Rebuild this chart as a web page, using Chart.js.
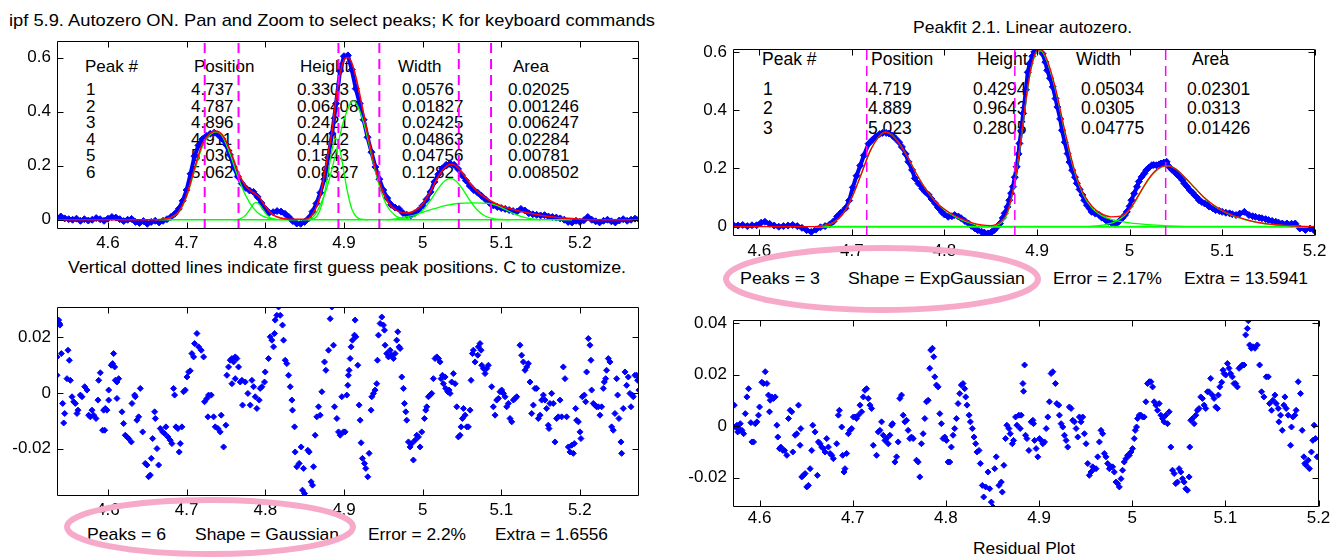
<!DOCTYPE html>
<html><head><meta charset="utf-8">
<script src="https://cdn.jsdelivr.net/npm/chart.js@4.4.1/dist/chart.umd.min.js"></script>
<style>
html,body{margin:0;padding:0;background:#fff;}
#wrap{position:relative;width:1332px;height:558px;overflow:hidden;background:#fff;}
#wrap canvas{position:absolute;left:0;top:0;z-index:1;}
#txt{position:absolute;left:0;top:0;z-index:0;}
#ov{position:absolute;left:0;top:0;z-index:2;}
text{font-family:"Liberation Sans",Arial,sans-serif;fill:#000;}
</style></head><body>
<div id="wrap">
<svg id="txt" width="1332" height="558"></svg>
<canvas id="cTL" width="1332" height="558"></canvas>
<canvas id="cTR" width="1332" height="558"></canvas>
<canvas id="cBL" width="1332" height="558"></canvas>
<canvas id="cBR" width="1332" height="558"></canvas>
<svg id="ov" width="1332" height="558">
<ellipse cx="882" cy="279" rx="156" ry="31" fill="none" stroke="#f7a9c9" stroke-width="6"/>
<ellipse cx="210" cy="527" rx="143" ry="27" fill="none" stroke="#f7a9c9" stroke-width="6"/>
</svg>
</div>
<script>
// ---------------- tick values / labels ----------------
const xTicks = [4.6,4.7,4.8,4.9,5,5.1,5.2];
const xTickLabels = ['4.6','4.7','4.8','4.9','5','5.1','5.2'];
const yTicksFit = [0,0.2,0.4,0.6];
const yTickLabelsFit = ['0','0.2','0.4','0.6'];
const yTicksResL = [-0.02,0,0.02];
const yTickLabelsResL = ['-0.02','0','0.02'];
const yTicksResR = [-0.02,0,0.02,0.04];
const yTickLabelsResR = ['-0.02','0','0.02','0.04'];

// ---------------- texts ----------------
const titleLeft = 'ipf 5.9. Autozero ON. Pan and Zoom to select peaks; K for keyboard commands';
const titleRight = 'Peakfit 2.1. Linear autozero.';
const noteLeft = 'Vertical dotted lines indicate first guess peak positions. C to customize.';
const statsLeft = ['Peaks = 6','Shape = Gaussian','Error = 2.2%','Extra = 1.6556'];
const statsRight = ['Peaks = 3','Shape = ExpGaussian','Error = 2.17%','Extra = 13.5941'];
const residualLabel = 'Residual Plot';
const tableHeaders = ['Peak #','Position','Height','Width','Area'];
const tableLeftRows = [
 ['1','4.737','0.3303','0.0576','0.02025'],
 ['2','4.787','0.06408','0.01827','0.001246'],
 ['3','4.896','0.2421','0.02425','0.006247'],
 ['4','4.911','0.4412','0.04863','0.02284'],
 ['5','5.036','0.1543','0.04756','0.00781'],
 ['6','5.062','0.08327','0.1282','0.008502']];
const tableRightRows = [
 ['1','4.719','0.4294','0.05034','0.02301'],
 ['2','4.889','0.9643','0.0305','0.0313'],
 ['3','5.023','0.2805','0.04775','0.01426']];

// ---------------- first-guess marker positions ----------------
const guessLeft = [4.723,4.766,4.893,4.945,5.046,5.087];
const guessRight = [4.716,4.876,5.039];

// ---------------- top-left (ipf) data ----------------
const tlData = [[4.535,0.008],[4.540,0.012],[4.545,0.005],[4.550,0.002],[4.555,0.000],[4.560,0.004],[4.565,-0.004],[4.570,0.002],[4.575,-0.003],[4.580,0.000],[4.585,0.006],[4.590,0.002],[4.595,-0.004],[4.600,0.004],[4.605,0.010],[4.610,0.008],[4.615,0.002],[4.620,-0.005],[4.625,0.000],[4.630,0.003],[4.635,-0.008],[4.640,-0.012],[4.645,-0.005],[4.650,-0.015],[4.655,-0.008],[4.660,-0.004],[4.665,-0.010],[4.670,-0.004],[4.675,0.002],[4.680,0.010],[4.685,0.022],[4.690,0.040],[4.695,0.070],[4.700,0.110],[4.705,0.170],[4.710,0.235],[4.715,0.275],[4.720,0.298],[4.725,0.310],[4.730,0.318],[4.735,0.322],[4.740,0.314],[4.745,0.300],[4.750,0.278],[4.755,0.240],[4.760,0.195],[4.765,0.160],[4.770,0.134],[4.775,0.118],[4.780,0.108],[4.785,0.103],[4.790,0.085],[4.795,0.062],[4.800,0.040],[4.805,0.026],[4.810,0.028],[4.815,0.032],[4.820,0.030],[4.825,0.022],[4.830,0.010],[4.835,-0.005],[4.840,-0.014],[4.845,-0.015],[4.850,-0.008],[4.855,0.005],[4.860,0.030],[4.865,0.060],[4.870,0.100],[4.875,0.150],[4.880,0.230],[4.885,0.320],[4.890,0.430],[4.895,0.550],[4.900,0.605],[4.905,0.608],[4.910,0.555],[4.915,0.485],[4.920,0.430],[4.925,0.370],[4.930,0.305],[4.935,0.250],[4.940,0.195],[4.945,0.150],[4.950,0.110],[4.955,0.080],[4.960,0.055],[4.965,0.045],[4.970,0.040],[4.975,0.025],[4.980,0.018],[4.985,0.016],[4.990,0.024],[4.995,0.035],[5.000,0.052],[5.005,0.075],[5.010,0.103],[5.015,0.140],[5.020,0.168],[5.025,0.190],[5.030,0.203],[5.035,0.208],[5.040,0.203],[5.045,0.188],[5.050,0.165],[5.055,0.145],[5.060,0.125],[5.065,0.110],[5.070,0.100],[5.075,0.088],[5.080,0.075],[5.085,0.062],[5.090,0.053],[5.095,0.047],[5.100,0.043],[5.105,0.040],[5.110,0.036],[5.115,0.032],[5.120,0.030],[5.125,0.040],[5.130,0.034],[5.135,0.024],[5.140,0.020],[5.145,0.018],[5.150,0.016],[5.155,0.017],[5.160,0.012],[5.165,0.010],[5.170,0.008],[5.175,0.005],[5.180,0.000],[5.185,-0.008],[5.190,-0.010],[5.195,-0.004],[5.200,-0.008],[5.205,-0.002],[5.210,0.010],[5.215,0.000],[5.220,-0.006],[5.225,-0.010],[5.230,-0.004],[5.235,0.000],[5.240,-0.006],[5.245,-0.010],[5.250,-0.003],[5.255,0.002],[5.260,-0.004],[5.265,0.000],[5.270,0.004],[5.275,0.002]];
const tlFit = [[4.535,0],[4.660,0],[4.670,0.002],[4.680,0.008],[4.690,0.030],[4.700,0.090],[4.710,0.190],[4.720,0.280],[4.730,0.320],[4.737,0.328],[4.745,0.315],[4.755,0.260],[4.765,0.180],[4.775,0.125],[4.785,0.100],[4.792,0.085],[4.800,0.050],[4.810,0.018],[4.820,0.006],[4.830,0.002],[4.850,0.002],[4.860,0.020],[4.870,0.090],[4.880,0.250],[4.885,0.330],[4.890,0.450],[4.895,0.540],[4.900,0.590],[4.905,0.600],[4.910,0.580],[4.915,0.530],[4.920,0.465],[4.930,0.320],[4.940,0.190],[4.950,0.100],[4.960,0.050],[4.970,0.030],[4.980,0.025],[4.990,0.033],[5.000,0.058],[5.010,0.105],[5.020,0.160],[5.030,0.197],[5.037,0.205],[5.045,0.192],[5.055,0.155],[5.065,0.118],[5.075,0.092],[5.085,0.072],[5.095,0.057],[5.105,0.046],[5.120,0.034],[5.140,0.022],[5.160,0.012],[5.180,0.006],[5.200,0.002],[5.220,0],[5.275,0]];
const tlPeak1 = [[4.660,0],[4.670,0.002],[4.680,0.008],[4.690,0.028],[4.700,0.085],[4.710,0.180],[4.720,0.270],[4.730,0.315],[4.737,0.325],[4.745,0.310],[4.755,0.245],[4.765,0.160],[4.775,0.090],[4.785,0.042],[4.795,0.016],[4.805,0.005],[4.815,0.001],[4.830,0]];
const tlPeak2 = [[4.760,0],[4.768,0.003],[4.775,0.017],[4.780,0.036],[4.785,0.058],[4.788,0.064],[4.792,0.058],[4.797,0.038],[4.802,0.018],[4.808,0.005],[4.815,0]];
const tlPeak3 = [[4.855,0],[4.862,0.004],[4.868,0.025],[4.874,0.080],[4.880,0.175],[4.885,0.260],[4.889,0.300],[4.893,0.285],[4.898,0.210],[4.904,0.110],[4.910,0.040],[4.916,0.010],[4.922,0.002],[4.930,0]];
const tlPeak4 = [[4.850,0],[4.860,0.008],[4.870,0.055],[4.880,0.135],[4.890,0.250],[4.900,0.370],[4.912,0.440],[4.925,0.360],[4.935,0.240],[4.945,0.125],[4.955,0.050],[4.965,0.016],[4.975,0.004],[4.985,0]];
const tlPeak5 = [[4.970,0],[4.980,0.004],[4.990,0.013],[5.000,0.034],[5.010,0.072],[5.020,0.116],[5.028,0.143],[5.035,0.153],[5.042,0.144],[5.050,0.117],[5.060,0.072],[5.070,0.034],[5.080,0.013],[5.090,0.004],[5.100,0.001],[5.110,0]];
const tlPeak6 = [[4.955,0],[4.970,0.005],[4.985,0.014],[5.000,0.027],[5.015,0.041],[5.030,0.053],[5.045,0.060],[5.065,0.062],[5.085,0.060],[5.095,0.052],[5.105,0.038],[5.115,0.024],[5.125,0.012],[5.135,0.005],[5.150,0]];
const tlBase = [[4.665,0],[5.190,0]];

// ---------------- top-right (peakfit) data ----------------
const trData = [[4.572,0.005],[4.577,0.004],[4.582,0.006],[4.587,0.002],[4.592,0.005],[4.597,0.005],[4.602,0.014],[4.606,0.017],[4.611,0.010],[4.616,0.004],[4.621,0.000],[4.626,0.002],[4.631,0.004],[4.636,0.006],[4.641,0.002],[4.646,-0.004],[4.651,-0.012],[4.656,-0.018],[4.661,-0.010],[4.666,-0.002],[4.671,0.002],[4.676,0.008],[4.680,0.018],[4.684,0.035],[4.688,0.048],[4.693,0.063],[4.697,0.090],[4.701,0.135],[4.705,0.175],[4.709,0.210],[4.713,0.245],[4.718,0.285],[4.722,0.298],[4.726,0.310],[4.730,0.318],[4.733,0.322],[4.737,0.322],[4.740,0.320],[4.744,0.312],[4.747,0.303],[4.751,0.290],[4.754,0.274],[4.758,0.250],[4.761,0.223],[4.765,0.195],[4.768,0.166],[4.772,0.148],[4.776,0.131],[4.779,0.120],[4.783,0.109],[4.786,0.095],[4.790,0.080],[4.793,0.066],[4.797,0.051],[4.800,0.042],[4.804,0.034],[4.808,0.036],[4.811,0.040],[4.815,0.035],[4.818,0.029],[4.822,0.020],[4.826,0.011],[4.829,0.003],[4.833,-0.006],[4.836,-0.012],[4.840,-0.017],[4.843,-0.020],[4.847,-0.023],[4.851,-0.018],[4.854,-0.011],[4.857,0.000],[4.860,0.011],[4.863,0.030],[4.865,0.046],[4.868,0.068],[4.870,0.091],[4.872,0.115],[4.874,0.137],[4.876,0.170],[4.878,0.206],[4.880,0.250],[4.881,0.286],[4.883,0.330],[4.885,0.389],[4.888,0.470],[4.890,0.530],[4.892,0.560],[4.895,0.585],[4.897,0.600],[4.900,0.608],[4.902,0.611],[4.906,0.594],[4.909,0.565],[4.911,0.537],[4.914,0.510],[4.917,0.480],[4.920,0.440],[4.922,0.411],[4.925,0.370],[4.927,0.331],[4.930,0.290],[4.933,0.251],[4.935,0.222],[4.938,0.194],[4.941,0.170],[4.943,0.149],[4.946,0.128],[4.949,0.109],[4.951,0.091],[4.954,0.074],[4.957,0.062],[4.959,0.051],[4.963,0.045],[4.967,0.040],[4.970,0.031],[4.974,0.023],[4.977,0.017],[4.981,0.011],[4.984,0.010],[4.986,0.011],[4.989,0.020],[4.992,0.029],[4.995,0.040],[4.997,0.051],[5.000,0.070],[5.002,0.091],[5.005,0.114],[5.008,0.137],[5.010,0.155],[5.013,0.171],[5.016,0.183],[5.018,0.194],[5.021,0.203],[5.024,0.211],[5.026,0.212],[5.029,0.211],[5.032,0.214],[5.034,0.217],[5.037,0.220],[5.040,0.223],[5.043,0.205],[5.046,0.195],[5.049,0.188],[5.051,0.180],[5.054,0.171],[5.057,0.160],[5.059,0.149],[5.062,0.138],[5.065,0.126],[5.068,0.117],[5.070,0.109],[5.073,0.100],[5.075,0.091],[5.078,0.085],[5.081,0.080],[5.084,0.075],[5.086,0.069],[5.090,0.063],[5.093,0.057],[5.097,0.054],[5.100,0.051],[5.104,0.048],[5.108,0.046],[5.111,0.043],[5.115,0.040],[5.119,0.045],[5.124,0.051],[5.129,0.040],[5.133,0.036],[5.136,0.034],[5.140,0.031],[5.143,0.029],[5.147,0.026],[5.150,0.023],[5.154,0.020],[5.158,0.017],[5.161,0.014],[5.165,0.011],[5.170,0.011],[5.175,0.010],[5.179,0.011],[5.184,-0.006],[5.190,-0.011],[5.195,-0.006],[5.199,-0.011]];
const trFit = [[4.5715,0],[4.660,0],[4.670,0.004],[4.680,0.014],[4.690,0.042],[4.700,0.100],[4.710,0.180],[4.720,0.262],[4.730,0.312],[4.736,0.325],[4.742,0.318],[4.750,0.290],[4.760,0.240],[4.770,0.180],[4.780,0.128],[4.790,0.088],[4.800,0.060],[4.810,0.040],[4.820,0.025],[4.830,0.013],[4.840,0.006],[4.850,0.004],[4.860,0.016],[4.868,0.050],[4.875,0.140],[4.880,0.240],[4.885,0.360],[4.890,0.480],[4.895,0.565],[4.900,0.605],[4.904,0.608],[4.910,0.580],[4.920,0.475],[4.930,0.330],[4.940,0.200],[4.950,0.115],[4.960,0.068],[4.970,0.044],[4.980,0.034],[4.990,0.036],[5.000,0.060],[5.010,0.110],[5.020,0.162],[5.030,0.198],[5.040,0.210],[5.050,0.198],[5.060,0.168],[5.070,0.135],[5.080,0.102],[5.090,0.076],[5.100,0.056],[5.110,0.041],[5.120,0.030],[5.130,0.021],[5.140,0.014],[5.160,0.006],[5.180,0.002],[5.200,0]];
const trPeak1 = [[4.660,0],[4.670,0.004],[4.680,0.014],[4.690,0.042],[4.700,0.100],[4.710,0.180],[4.720,0.262],[4.730,0.312],[4.736,0.325],[4.742,0.318],[4.750,0.290],[4.760,0.240],[4.770,0.180],[4.780,0.128],[4.790,0.087],[4.800,0.058],[4.810,0.037],[4.820,0.022],[4.830,0.011],[4.840,0.004],[4.850,0.001],[4.860,0]];
const trPeak2 = [[4.845,0],[4.855,0.004],[4.862,0.015],[4.868,0.045],[4.875,0.135],[4.880,0.235],[4.885,0.355],[4.890,0.475],[4.895,0.560],[4.900,0.600],[4.904,0.604],[4.910,0.575],[4.920,0.470],[4.930,0.325],[4.940,0.195],[4.950,0.110],[4.960,0.062],[4.970,0.038],[4.980,0.025],[4.990,0.018],[5.000,0.013],[5.020,0.007],[5.040,0.003],[5.060,0]];
const trPeak3 = [[4.955,0],[4.965,0.003],[4.975,0.008],[4.985,0.018],[4.995,0.040],[5.005,0.080],[5.015,0.135],[5.025,0.180],[5.035,0.205],[5.042,0.209],[5.050,0.198],[5.060,0.168],[5.070,0.134],[5.080,0.101],[5.090,0.075],[5.100,0.055],[5.110,0.040],[5.120,0.029],[5.130,0.020],[5.140,0.013],[5.160,0.005],[5.180,0.001],[5.200,0]];
const trBase = [[4.660,0],[5.200,0]];

// ---------------- residuals, bottom-left ----------------
const blResid = [[4.5352,0.0129],[4.5352,0.0063],[4.5373,0.0261],[4.5382,0.0249],[4.5390,0.0243],[4.5407,0.0141],[4.5424,-0.0038],[4.5437,-0.0108],[4.5450,-0.0074],[4.5479,0.0051],[4.5492,0.0153],[4.5509,0.0117],[4.5522,0.0045],[4.5543,-0.0014],[4.5564,-0.0032],[4.5585,-0.0038],[4.5606,-0.0074],[4.5619,-0.0062],[4.5649,-0.0008],[4.5670,-0.0014],[4.5704,0.0022],[4.5733,0.0010],[4.5755,-0.0080],[4.5776,-0.0086],[4.5797,-0.0062],[4.5818,-0.0080],[4.5848,-0.0092],[4.5873,-0.0026],[4.5882,0.0045],[4.5903,0.0072],[4.5932,-0.0134],[4.5945,-0.0062],[4.5958,-0.0134],[4.5966,-0.0056],[4.5987,-0.0062],[4.6009,0.0010],[4.6009,-0.0026],[4.6042,0.0099],[4.6059,0.0105],[4.6072,0.0141],[4.6085,0.0093],[4.6093,0.0045],[4.6114,0.0039],[4.6114,-0.0020],[4.6136,0.0051],[4.6178,-0.0068],[4.6199,-0.0110],[4.6220,-0.0152],[4.6242,-0.0158],[4.6263,-0.0164],[4.6297,-0.0176],[4.6305,-0.0038],[4.6339,-0.0008],[4.6347,-0.0014],[4.6368,-0.0098],[4.6390,-0.0086],[4.6411,0.0016],[4.6441,-0.0140],[4.6474,-0.0253],[4.6496,-0.0259],[4.6517,-0.0301],[4.6538,-0.0295],[4.6551,-0.0235],[4.6568,-0.0164],[4.6593,-0.0068],[4.6602,-0.0092],[4.6623,-0.0200],[4.6644,-0.0259],[4.6665,-0.0128],[4.6695,-0.0140],[4.6720,-0.0146],[4.6737,-0.0122],[4.6762,-0.0158],[4.6792,-0.0170],[4.6813,-0.0182],[4.6834,0.0016],[4.6847,-0.0008],[4.6864,-0.0122],[4.6889,-0.0128],[4.6906,-0.0212],[4.6919,-0.0182],[4.6940,-0.0122],[4.6961,0.0004],[4.6983,0.0010],[4.7004,0.0057],[4.7025,0.0075],[4.7046,0.0079],[4.7067,0.0141],[4.7089,0.0129],[4.7101,0.0177],[4.7131,0.0213],[4.7152,0.0165],[4.7186,0.0153],[4.7216,0.0129],[4.7228,-0.0032],[4.7258,-0.0020],[4.7271,-0.0086],[4.7279,-0.0008],[4.7313,-0.0008],[4.7343,-0.0086],[4.7364,-0.0122],[4.7398,-0.0128],[4.7427,-0.0140],[4.7440,-0.0080],[4.7470,-0.0194],[4.7499,-0.0116],[4.7512,0.0063],[4.7533,0.0093],[4.7554,0.0117],[4.7576,0.0123],[4.7576,0.0033],[4.7597,0.0111],[4.7618,0.0129],[4.7618,0.0051],[4.7639,0.0123],[4.7660,0.0093],[4.7681,0.0039],[4.7703,0.0045],[4.7711,-0.0044],[4.7745,0.0039],[4.7779,-0.0002],[4.7809,-0.0044],[4.7830,0.0045],[4.7851,0.0022],[4.7872,-0.0014],[4.7893,-0.0056],[4.7923,-0.0026],[4.7935,0.0016],[4.7957,0.0022],[4.7990,0.0039],[4.7999,0.0075],[4.8041,0.0123],[4.8063,0.0201],[4.8084,0.0189],[4.8105,0.0165],[4.8118,0.0213],[4.8126,0.0261],[4.8147,0.0278],[4.8169,0.0308],[4.8190,0.0278],[4.8219,0.0243],[4.8232,0.0189],[4.8253,0.0117],[4.8274,0.0105],[4.8296,0.0063],[4.8317,0.0022],[4.8338,-0.0026],[4.8346,-0.0062],[4.8372,-0.0122],[4.8380,-0.0212],[4.8401,-0.0265],[4.8431,-0.0253],[4.8456,-0.0194],[4.8473,-0.0349],[4.8486,-0.0271],[4.8499,-0.0361],[4.8541,-0.0206],[4.8558,-0.0212],[4.8583,-0.0319],[4.8600,-0.0331],[4.8613,-0.0265],[4.8634,-0.0152],[4.8655,-0.0086],[4.8677,-0.0050],[4.8698,-0.0080],[4.8719,0.0004],[4.8753,0.0111],[4.8770,0.0081],[4.8804,0.0153],[4.8825,0.0266],[4.8846,0.0308],[4.8867,0.0171],[4.8880,-0.0050],[4.8910,-0.0092],[4.8931,-0.0140],[4.8952,-0.0152],[4.8973,-0.0014],[4.8994,-0.0140],
[4.9015,-0.0140],[4.9036,-0.0008],[4.9049,0.0027],[4.9057,0.0063],[4.9066,0.0081],[4.9079,0.0123],[4.9091,0.0165],[4.9108,0.0189],[4.9134,0.0207],[4.9142,0.0261],[4.9151,0.0201],[4.9176,0.0099],[4.9193,-0.0044],[4.9206,-0.0098],[4.9218,-0.0179],[4.9235,-0.0235],[4.9261,-0.0253],[4.9278,-0.0271],[4.9303,-0.0301],[4.9320,-0.0217],[4.9345,-0.0062],[4.9354,-0.0014],[4.9375,-0.0002],[4.9396,0.0010],[4.9417,0.0033],[4.9426,0.0117],[4.9439,0.0207],[4.9460,0.0249],[4.9481,0.0272],[4.9502,0.0243],[4.9515,0.0225],[4.9523,0.0171],[4.9544,0.0141],[4.9566,0.0129],[4.9587,0.0153],[4.9608,0.0135],[4.9629,0.0123],[4.9650,0.0141],[4.9671,0.0189],[4.9684,0.0219],[4.9701,0.0165],[4.9714,0.0159],[4.9735,0.0057],[4.9756,0.0016],[4.9769,-0.0038],[4.9786,-0.0068],[4.9798,-0.0098],[4.9820,-0.0176],[4.9841,-0.0194],[4.9862,-0.0182],[4.9883,-0.0241],[4.9904,-0.0170],[4.9926,-0.0152],[4.9947,-0.0158],[4.9968,-0.0194],[4.9989,-0.0140],[5.0023,-0.0092],[5.0040,-0.0062],[5.0053,-0.0050],[5.0074,-0.0014],[5.0095,-0.0008],[5.0116,-0.0002],[5.0137,0.0051],[5.0158,0.0123],[5.0180,0.0129],[5.0201,0.0123],[5.0222,0.0111],[5.0235,0.0051],[5.0252,0.0063],[5.0264,0.0033],[5.0286,0.0057],[5.0294,0.0016],[5.0319,0.0004],[5.0336,0.0010],[5.0349,-0.0002],[5.0370,0.0039],[5.0391,0.0069],[5.0413,0.0033],[5.0434,-0.0050],[5.0455,-0.0158],[5.0476,-0.0152],[5.0489,-0.0122],[5.0506,-0.0092],[5.0519,-0.0056],[5.0540,-0.0080],[5.0561,-0.0122],[5.0582,-0.0122],[5.0603,-0.0062],[5.0616,0.0045],[5.0633,0.0141],[5.0645,0.0153],[5.0667,0.0111],[5.0701,0.0135],[5.0709,0.0165],[5.0730,0.0177],[5.0743,0.0153],[5.0751,0.0099],[5.0773,0.0087],[5.0794,0.0069],[5.0815,0.0087],[5.0836,0.0099],[5.0878,0.0022],[5.0899,-0.0050],[5.0921,-0.0080],[5.0942,-0.0026],[5.0963,-0.0020],[5.0984,0.0004],[5.1005,0.0010],[5.1027,-0.0002],[5.1048,-0.0014],[5.1069,-0.0050],[5.1090,-0.0038],[5.1111,-0.0092],[5.1133,-0.0104],[5.1154,-0.0026],[5.1175,-0.0020],[5.1196,-0.0014],[5.1238,0.0171],[5.1259,0.0135],[5.1281,0.0111],[5.1302,0.0081],[5.1323,0.0093],[5.1344,0.0105],[5.1365,0.0039],[5.1387,-0.0074],[5.1408,-0.0044],[5.1429,0.0016],[5.1450,0.0016],[5.1471,-0.0092],[5.1493,-0.0080],[5.1514,-0.0026],[5.1535,-0.0008],[5.1556,-0.0026],[5.1577,-0.0056],[5.1598,-0.0116],[5.1607,-0.0128],[5.1619,-0.0038],[5.1641,-0.0002],[5.1662,-0.0038],[5.1683,-0.0176],[5.1704,-0.0092],[5.1725,-0.0086],[5.1747,-0.0026],[5.1768,-0.0086],[5.1789,0.0093],[5.1810,0.0051],[5.1831,-0.0086],[5.1853,-0.0194],[5.1874,-0.0212],[5.1895,-0.0188],[5.1916,-0.0217],[5.1929,-0.0182],[5.1946,-0.0056],[5.1958,-0.0098],[5.1980,-0.0104],[5.2001,-0.0140],[5.2013,-0.0164],[5.2030,-0.0014],[5.2056,-0.0008],[5.2073,-0.0032],[5.2085,0.0075],[5.2107,0.0195],[5.2128,0.0171],[5.2140,0.0117],[5.2149,0.0010],[5.2170,-0.0038],[5.2191,-0.0044],[5.2212,-0.0050],[5.2234,-0.0050],[5.2255,-0.0080],[5.2276,-0.0050],[5.2297,0.0016],[5.2310,0.0039],[5.2327,0.0051],[5.2339,0.0081],[5.2361,0.0123],[5.2382,0.0111],[5.2403,-0.0122],[5.2424,-0.0134],[5.2445,-0.0074],[5.2467,0.0051],[5.2479,-0.0008],[5.2496,-0.0092],[5.2522,-0.0176],[5.2530,-0.0217],[5.2551,-0.0056],[5.2573,0.0075],[5.2594,0.0027],[5.2615,0.0057],[5.2636,-0.0002],[5.2649,-0.0050],[5.2666,-0.0008],[5.2678,-0.0014],[5.2699,0.0063],[5.2721,0.0063],[5.2734,0.0045],[5.2750,0.0010]];

// ---------------- residuals, bottom-right ----------------
const brResid = [[4.5729,0.0082],[4.5740,-0.0003],[4.5757,0.0004],[4.5765,-0.0022],[4.5775,-0.0009],[4.5786,-0.0016],[4.5793,0.0010],[4.5811,-0.0016],[4.5829,-0.0029],[4.5847,0.0049],[4.5864,0.0114],[4.5882,0.0146],[4.5907,0.0014],[4.5918,-0.0061],[4.5936,-0.0061],[4.5954,0.0010],[4.5972,0.0017],[4.5989,0.0043],[4.6000,0.0075],[4.6025,0.0171],[4.6043,0.0166],[4.6061,0.0212],[4.6079,0.0166],[4.6096,0.0121],[4.6107,0.0056],[4.6114,0.0101],[4.6132,0.0114],[4.6150,0.0108],[4.6168,0.0114],[4.6186,0.0004],[4.6196,-0.0042],[4.6214,-0.0087],[4.6228,-0.0081],[4.6250,-0.0094],[4.6268,-0.0094],[4.6293,-0.0113],[4.6311,0.0030],[4.6328,0.0062],[4.6346,0.0056],[4.6357,-0.0100],[4.6382,-0.0035],[4.6400,-0.0029],[4.6418,0.0082],[4.6435,-0.0074],[4.6443,-0.0009],[4.6453,-0.0197],[4.6471,-0.0191],[4.6489,-0.0184],[4.6507,-0.0236],[4.6525,-0.0230],[4.6543,-0.0165],[4.6560,-0.0094],[4.6571,0.0004],[4.6596,-0.0022],[4.6621,-0.0191],[4.6632,-0.0061],[4.6650,-0.0068],[4.6667,-0.0081],[4.6685,-0.0087],[4.6703,-0.0100],[4.6721,-0.0048],[4.6739,-0.0081],[4.6757,-0.0106],[4.6775,-0.0113],[4.6792,-0.0126],[4.6828,-0.0068],[4.6846,0.0043],[4.6857,0.0062],[4.6882,-0.0003],[4.6892,-0.0113],[4.6907,-0.0178],[4.6917,-0.0165],[4.6935,-0.0106],[4.6953,-0.0029],[4.6971,-0.0016],[4.6989,-0.0009],[4.7007,0.0036],[4.7024,0.0036],[4.7042,0.0030],[4.7060,0.0043],[4.7078,0.0082],[4.7096,0.0056],[4.7114,0.0114],[4.7131,0.0140],[4.7149,0.0146],[4.7167,0.0108],[4.7185,0.0082],[4.7203,0.0069],[4.7221,-0.0074],[4.7256,-0.0113],[4.7274,-0.0022],[4.7292,-0.0016],[4.7310,0.0017],[4.7328,-0.0035],[4.7346,-0.0055],[4.7363,-0.0048],[4.7381,-0.0068],[4.7399,-0.0035],[4.7417,0.0004],[4.7428,0.0010],[4.7453,-0.0139],[4.7471,-0.0119],[4.7488,-0.0061],[4.7506,0.0108],[4.7524,0.0121],[4.7542,0.0043],[4.7560,0.0017],[4.7578,0.0023],[4.7595,-0.0016],[4.7613,-0.0048],[4.7631,-0.0042],[4.7649,-0.0048],[4.7685,-0.0132],[4.7703,-0.0139],[4.7720,-0.0197],[4.7738,-0.0068],[4.7756,-0.0029],[4.7774,0.0030],[4.7792,0.0095],[4.7810,0.0101],[4.7827,0.0225],[4.7838,0.0296],[4.7856,0.0303],[4.7870,0.0270],[4.7881,0.0192],[4.7899,0.0160],[4.7917,0.0153],[4.7935,0.0049],[4.7952,0.0010],[4.7970,-0.0048],[4.7988,-0.0042],[4.8006,-0.0055],[4.8024,-0.0139],[4.8042,-0.0139],[4.8059,-0.0081],[4.8077,-0.0035],[4.8095,-0.0009],[4.8113,0.0030],[4.8131,0.0088],[4.8149,0.0127],[4.8166,0.0160],[4.8184,0.0166],[4.8202,0.0146],[4.8213,0.0114],[4.8227,0.0082],[4.8249,0.0043],[4.8263,0.0017],[4.8284,-0.0009],[4.8302,-0.0042],[4.8320,-0.0068],[4.8334,-0.0100],[4.8356,-0.0094],[4.8370,-0.0145],[4.8391,-0.0230],[4.8406,-0.0275],[4.8427,-0.0236],[4.8452,-0.0178],[4.8470,-0.0243],[4.8488,-0.0295],[4.8506,-0.0314],[4.8524,-0.0165],[4.8541,-0.0119],[4.8570,-0.0230],[4.8595,-0.0217],[4.8606,-0.0256],[4.8623,-0.0152],[4.8641,-0.0048],[4.8655,0.0004],[4.8677,-0.0009],[4.8691,-0.0029],[4.8713,-0.0068],[4.8727,-0.0055],[4.8748,0.0036],[4.8763,0.0004],[4.8784,0.0043],
[4.8798,-0.0009],[4.8809,0.0043],[4.8827,0.0166],[4.8834,0.0136],[4.8845,0.0238],[4.8855,-0.0035],[4.8870,-0.0048],[4.8891,-0.0094],[4.8916,0.0017],[4.8934,0.0023],[4.8941,0.0010],[4.8952,-0.0055],[4.8969,-0.0087],[4.8987,-0.0119],[4.9005,-0.0048],[4.9023,-0.0055],[4.9041,-0.0068],[4.9059,-0.0061],[4.9077,-0.0009],[4.9094,0.0036],[4.9112,0.0095],[4.9130,0.0205],[4.9148,0.0212],[4.9176,0.0166],[4.9191,0.0088],[4.9212,0.0082],[4.9219,0.0043],[4.9237,0.0010],[4.9255,-0.0003],[4.9273,-0.0035],[4.9291,-0.0055],[4.9308,-0.0081],[4.9326,0.0075],[4.9344,0.0069],[4.9362,0.0023],[4.9380,0.0017],[4.9398,-0.0009],[4.9416,-0.0042],[4.9433,0.0036],[4.9451,0.0017],[4.9469,0.0036],[4.9487,-0.0029],[4.9505,-0.0068],[4.9523,-0.0145],[4.9540,-0.0191],[4.9558,-0.0178],[4.9576,-0.0158],[4.9594,-0.0165],[4.9612,-0.0165],[4.9630,-0.0119],[4.9648,-0.0061],[4.9665,-0.0016],[4.9683,-0.0029],[4.9701,-0.0106],[4.9719,-0.0119],[4.9737,-0.0145],[4.9755,-0.0165],[4.9772,-0.0158],[4.9790,-0.0158],[4.9808,-0.0178],[4.9826,-0.0217],[4.9844,-0.0223],[4.9862,-0.0236],[4.9880,-0.0204],[4.9897,-0.0171],[4.9915,-0.0139],[4.9933,-0.0126],[4.9951,-0.0113],[4.9969,-0.0113],[4.9987,-0.0100],[5.0004,-0.0087],[5.0022,-0.0048],[5.0033,-0.0016],[5.0047,-0.0003],[5.0058,0.0030],[5.0076,0.0043],[5.0094,0.0043],[5.0112,0.0036],[5.0129,0.0036],[5.0147,0.0095],[5.0165,0.0166],[5.0183,0.0173],[5.0201,0.0173],[5.0219,0.0153],[5.0236,0.0095],[5.0254,0.0082],[5.0272,0.0062],[5.0290,0.0088],[5.0308,0.0043],[5.0326,0.0030],[5.0343,0.0017],[5.0361,0.0043],[5.0379,0.0010],[5.0397,0.0056],[5.0415,-0.0081],[5.0433,-0.0171],[5.0451,-0.0184],[5.0468,-0.0223],[5.0486,-0.0217],[5.0504,-0.0165],[5.0522,-0.0178],[5.0540,-0.0204],[5.0558,-0.0217],[5.0576,-0.0243],[5.0593,-0.0249],[5.0611,-0.0197],[5.0618,-0.0081],[5.0629,0.0023],[5.0647,0.0030],[5.0665,0.0010],[5.0683,0.0043],[5.0700,0.0062],[5.0718,0.0069],[5.0736,0.0114],[5.0754,0.0108],[5.0772,0.0082],[5.0790,0.0069],[5.0808,0.0134],[5.0825,0.0134],[5.0843,0.0186],[5.0861,0.0121],[5.0879,0.0108],[5.0897,0.0075],[5.0915,0.0069],[5.0925,0.0121],[5.0940,0.0153],[5.0961,0.0171],[5.0975,0.0218],[5.0986,0.0205],[5.1004,0.0199],[5.1022,0.0244],[5.1039,0.0225],[5.1057,0.0205],[5.1075,0.0192],[5.1093,0.0166],[5.1111,0.0166],[5.1129,0.0153],[5.1147,0.0225],[5.1164,0.0231],[5.1182,0.0238],[5.1200,0.0238],[5.1218,0.0355],[5.1236,0.0380],[5.1247,0.0410],[5.1261,0.0316],[5.1279,0.0303],[5.1296,0.0309],[5.1318,0.0303],[5.1343,0.0316],[5.1368,0.0238],[5.1389,0.0134],[5.1414,0.0114],[5.1439,0.0192],[5.1461,0.0192],[5.1475,0.0088],[5.1496,0.0062],[5.1511,0.0101],[5.1532,0.0121],[5.1546,0.0088],[5.1568,0.0069],[5.1575,0.0017],[5.1593,0.0043],[5.1611,-0.0016],[5.1628,0.0082],[5.1639,0.0114],[5.1653,0.0069],[5.1675,0.0043],[5.1700,-0.0074],[5.1710,-0.0003],[5.1725,0.0036],[5.1746,0.0043],[5.1760,0.0062],[5.1782,0.0173],[5.1807,0.0127],[5.1825,-0.0016],[5.1843,-0.0119],[5.1853,-0.0145],[5.1867,-0.0152],[5.1889,-0.0132],[5.1903,-0.0165],[5.1924,-0.0100],[5.1939,-0.0055],[5.1953,0.0004],[5.1967,-0.0048],[5.1985,-0.0119]];

// ================= layout / styles =================
const FONT = '"Liberation Sans", Arial, sans-serif';
const W = 1332, H = 558, YW = 50, XH = 32;
const BLUE = '#0000ff', RED = '#ff0000', GREEN = '#00ff00', MAG = '#ff00ff';

const NS = 'http://www.w3.org/2000/svg';
const txt = document.getElementById('txt');
function addText(s, x, y, size, len, anchor) {
  const t = document.createElementNS(NS, 'text');
  t.setAttribute('x', x); t.setAttribute('y', y);
  t.setAttribute('font-size', size);
  t.setAttribute('dominant-baseline', 'central');
  if (len) { t.setAttribute('textLength', len); t.setAttribute('lengthAdjust', 'spacingAndGlyphs'); }
  if (anchor) t.setAttribute('text-anchor', anchor);
  t.textContent = s; txt.appendChild(t);
}
addText(titleLeft, 9, 20, 17, 646);
addText(titleRight, 913, 27, 17, 219);
addText(noteLeft, 68, 267, 17, 558);
[[87,79],[195,144],[368,98],[495,113]].forEach((p,i)=>addText(statsLeft[i], p[0], 534, 17, p[1]));
[[740,80],[848,177],[1053,109],[1184,124]].forEach((p,i)=>addText(statsRight[i], p[0], 278, 17, p[1]));
addText(residualLabel, 973, 548, 17, 102);
// tables
const tlHeadX = [85,194,300,398,513], tlColX = [86,191,297,402,508];
tableHeaders.forEach((h,i)=>addText(h, tlHeadX[i], 66, 17));
tableLeftRows.forEach((r,j)=>r.forEach((c,i)=>addText(c, tlColX[i], 89.5 + 16.5*j, 17)));
const trHeadX = [762,871,977,1076,1192], trColX = [763,868,973,1081,1187];
tableHeaders.forEach((h,i)=>addText(h, trHeadX[i], 59, 17.5));
tableRightRows.forEach((r,j)=>r.forEach((c,i)=>addText(c, trColX[i], 88.5 + 19.5*j, 17.5)));

// ---------- chart helpers ----------
const pts = a => a.map(p => ({x: p[0], y: p[1]}));
const boxPlugin = {
  id: 'matlabBox',
  afterDatasetsDraw(chart) {
    const {ctx, chartArea: a, scales: {x, y}} = chart;
    ctx.save();
    ctx.strokeStyle = '#000'; ctx.lineWidth = 1;
    const L = Math.round(a.left) + 0.5, R = Math.round(a.right) - 0.5;
    const T = Math.round(a.top) + 0.5, B = Math.round(a.bottom) - 0.5;
    ctx.beginPath();
    ctx.rect(L, T, R - L, B - T);
    x.ticks.forEach(t => { const p = Math.round(x.getPixelForValue(t.value)) + 0.5;
      ctx.moveTo(p, B); ctx.lineTo(p, B - 6); ctx.moveTo(p, T); ctx.lineTo(p, T + 6); });
    y.ticks.forEach(t => { const p = Math.round(y.getPixelForValue(t.value)) + 0.5;
      ctx.moveTo(L, p); ctx.lineTo(L + 6, p); ctx.moveTo(R, p); ctx.lineTo(R - 6, p); });
    ctx.stroke();
    ctx.restore();
  }
};
function makeChart(id, frame, xr, yr, yTicks, yLabels, xPad, datasets) {
  new Chart(document.getElementById(id), {
    type: 'scatter',
    data: {datasets},
    plugins: [boxPlugin],
    options: {
      responsive: false, animation: false, devicePixelRatio: 1, events: [],
      layout: {padding: {left: frame.l - YW, right: W - frame.r, top: frame.t, bottom: H - frame.b - XH}},
      plugins: {legend: {display: false}, tooltip: {enabled: false}},
      scales: {
        x: {type: 'linear', min: xr[0], max: xr[1],
            grid: {display: false, drawTicks: false}, border: {display: false},
            afterBuildTicks: s => { s.ticks = xTicks.map(v => ({value: v})); },
            afterFit: s => { s.height = XH; },
            ticks: {autoSkip: false, maxRotation: 0, minRotation: 0, padding: xPad, color: '#000',
                    font: {family: FONT, size: 17}, callback: (v, i) => xTickLabels[i]}},
        y: {type: 'linear', min: yr[0], max: yr[1],
            grid: {display: false, drawTicks: false}, border: {display: false},
            afterBuildTicks: s => { s.ticks = yTicks.map(v => ({value: v})); },
            afterFit: s => { s.width = YW; },
            ticks: {autoSkip: false, padding: 6, color: '#000',
                    font: {family: FONT, size: 17}, callback: (v, i) => yLabels[i]}}
      }
    }
  });
}
const band = a => ({data: pts(a), showLine: true, borderColor: BLUE, borderWidth: 4, tension: 0,
  pointStyle: 'rectRot', pointRadius: 3.5, pointBorderWidth: 1, pointBackgroundColor: BLUE, pointBorderColor: BLUE, order: 3});
const curve = (a, c, w, o) => ({data: pts(a), showLine: true, borderColor: c, borderWidth: w, pointRadius: 0,
  cubicInterpolationMode: 'monotone', order: o});
const guide = (x, yr, w) => ({data: [{x, y: yr[0]}, {x, y: yr[1]}], showLine: true, borderColor: MAG, borderWidth: w,
  borderDash: [10, 6], pointRadius: 0, order: 0});
const resid = a => ({data: pts(a), showLine: false, pointStyle: 'rectRot', pointRadius: 3, pointBorderWidth: 1,
  pointBackgroundColor: BLUE, pointBorderColor: BLUE, order: 3});

const xrL = [4.5352, 5.2751], xrR = [4.5715, 5.2];
const yrTL = [-0.0343, 0.6613], yrTR = [-0.0319, 0.610];
const yrBL = [-0.0370, 0.0308], yrBR = [-0.0314, 0.0413];

makeChart('cTL', {l: 57, r: 639, t: 41, b: 229}, xrL, yrTL, yTicksFit, yTickLabelsFit, 4, [
  ...guessLeft.map(g => guide(g, yrTL, 2)),
  curve(tlFit, RED, 1.6, 1),
  curve(tlBase, GREEN, 1.3, 2), curve(tlPeak1, GREEN, 1.3, 2), curve(tlPeak2, GREEN, 1.3, 2),
  curve(tlPeak3, GREEN, 1.3, 2), curve(tlPeak4, GREEN, 1.3, 2), curve(tlPeak5, GREEN, 1.3, 2), curve(tlPeak6, GREEN, 1.3, 2),
  band(tlData)
]);
makeChart('cTR', {l: 733, r: 1318.5, t: 49, b: 236}, xrR, yrTR, yTicksFit, yTickLabelsFit, 5.5, [
  ...guessRight.map(g => guide(g, yrTR, 1.5)),
  curve(trFit, RED, 1.3, 1),
  curve(trBase, GREEN, 2, 2), curve(trPeak1, GREEN, 1.3, 2), curve(trPeak2, GREEN, 1.3, 2), curve(trPeak3, GREEN, 1.3, 2),
  band(trData)
]);
makeChart('cBL', {l: 57, r: 639, t: 307, b: 496}, xrL, yrBL, yTicksResL, yTickLabelsResL, 4, [resid(blResid)]);
makeChart('cBR', {l: 733, r: 1318.5, t: 320, b: 507}, xrR, yrBR, yTicksResR, yTickLabelsResR, 1.5, [resid(brResid)]);
</script>
</body></html>
